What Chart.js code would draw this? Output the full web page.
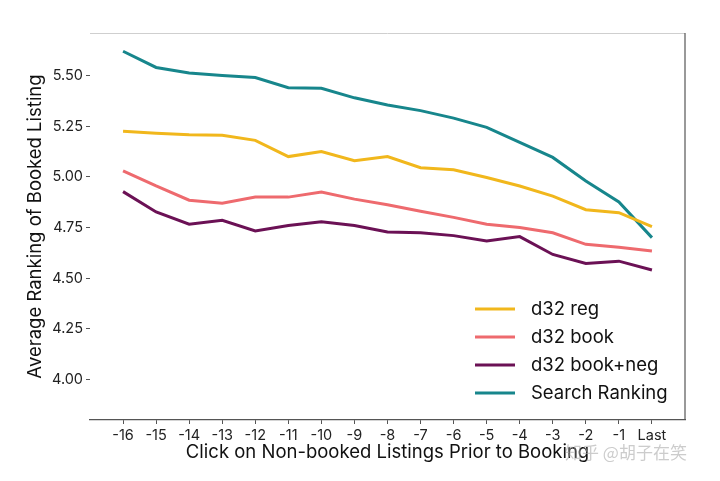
<!DOCTYPE html>
<html>
<head>
<meta charset="utf-8">
<script src="https://cdn.jsdelivr.net/npm/chart.js@4/dist/chart.umd.min.js"></script>
<style>
html,body{margin:0;padding:0;background:#fff;}
#wrap{width:720px;height:481px;position:relative;}
</style>
</head>
<body>
<div id="wrap"><canvas id="c" width="720" height="481"></canvas></div>
<script>
const categories = ["-16","-15","-14","-13","-12","-11","-10","-9","-8","-7","-6","-5","-4","-3","-2","-1","Last"];
const d32Reg     = [5.225,5.215,5.208,5.205,5.18,5.10,5.125,5.08,5.10,5.045,5.035,4.997,4.955,4.905,4.838,4.823,4.754];
const d32Book    = [5.03,4.955,4.885,4.87,4.90,4.90,4.925,4.89,4.862,4.83,4.80,4.766,4.75,4.724,4.667,4.653,4.634];
const d32BookNeg = [4.927,4.827,4.766,4.786,4.733,4.76,4.778,4.76,4.728,4.724,4.71,4.683,4.705,4.617,4.573,4.584,4.54];
const searchRank = [5.62,5.54,5.513,5.50,5.49,5.44,5.437,5.39,5.355,5.327,5.29,5.244,5.17,5.096,4.98,4.876,4.70];
const yTicks = [4.00,4.25,4.50,4.75,5.00,5.25,5.50];
const seriesNames = ["d32 reg","d32 book","d32 book+neg","Search Ranking"];
const seriesColors = ["#f1b71c","#ee6a6e","#6b1155","#17868c"];

const FONT = "Inter, 'Open Sans', sans-serif";
const toPts = arr => arr.map((v,i)=>({x:i,y:v}));
const allSeries = [d32Reg,d32Book,d32BookNeg,searchRank];

const framePlugin = {
  id:'frame',
  afterDraw(chart){
    const {ctx, chartArea:a} = chart;
    ctx.save();
    ctx.strokeStyle = '#cfcfcf'; ctx.lineWidth = 1;
    ctx.beginPath(); ctx.moveTo(a.left, a.top+0.5); ctx.lineTo(a.right, a.top+0.5); ctx.stroke();
    ctx.strokeStyle = '#555'; ctx.lineWidth = 1.2;
    ctx.beginPath(); ctx.moveTo(a.right, a.top); ctx.lineTo(a.right, a.bottom); ctx.stroke();
    // legend inside plot
    const x0 = 475, x1 = 515, tx = 531;
    const ys = [309,337,365,393];
    ctx.font = "18.5px " + FONT;
    ctx.textBaseline = 'middle';
    ctx.fillStyle = '#111';
    seriesNames.forEach((n,i)=>{
      ctx.strokeStyle = seriesColors[i]; ctx.lineWidth = 3;
      ctx.beginPath(); ctx.moveTo(x0, ys[i]); ctx.lineTo(x1, ys[i]); ctx.stroke();
      ctx.fillText(n, tx, ys[i]);
    });
    // watermark
    ctx.font = "17px 'Noto Sans CJK SC', sans-serif";
    ctx.fillStyle = 'rgba(170,170,170,0.6)';
    ctx.fillText("知乎 @胡子在笑", 565, 453);
    ctx.restore();
  }
};

new Chart(document.getElementById('c'), {
  type:'line',
  data:{
    datasets: allSeries.map((s,i)=>({
      label: seriesNames[i],
      data: toPts(s),
      borderColor: seriesColors[i],
      backgroundColor: seriesColors[i],
      borderWidth: 3,
      pointRadius: 0,
      tension: 0,
      fill: false
    }))
  },
  options:{
    responsive:false,
    animation:false,
    layout:{padding:{top:33,right:35,left:0,bottom:0}},
    plugins:{legend:{display:false},tooltip:{enabled:false}},
    scales:{
      x:{
        type:'linear', min:-1, max:categories.length,
        afterBuildTicks(s){ s.ticks = categories.map((_,i)=>({value:i})); },
        afterFit(s){ s.height = 61; },
        grid:{drawOnChartArea:false, drawTicks:true, tickLength:4, color:'#555'},
        border:{display:true, color:'#555', width:1.2},
        ticks:{autoSkip:false, maxRotation:0, padding:3, color:'#222', font:{family:FONT,size:14.5},
          callback:(v)=>categories[v] ?? ''},
        title:{display:true, text:'Click on Non-booked Listings Prior to Booking', color:'#111',
          font:{family:FONT,size:18.5}, padding:{top:0,bottom:17}}
      },
      y:{
        min:3.80, max:5.71,
        afterBuildTicks(s){ s.ticks = yTicks.map(v=>({value:v})); },
        afterFit(s){ s.width = 90; },
        grid:{drawOnChartArea:false, drawTicks:true, tickLength:4, color:'#555'},
        border:{display:false},
        ticks:{padding:3, color:'#222', font:{family:FONT,size:14.5}, callback:(v)=>Number(v).toFixed(2)},
        title:{display:true, text:'Average Ranking of Booked Listing', color:'#111',
          font:{family:FONT,size:18.5}, padding:{top:24,bottom:0}}
      }
    }
  },
  plugins:[framePlugin]
});
</script>
</body>
</html>
